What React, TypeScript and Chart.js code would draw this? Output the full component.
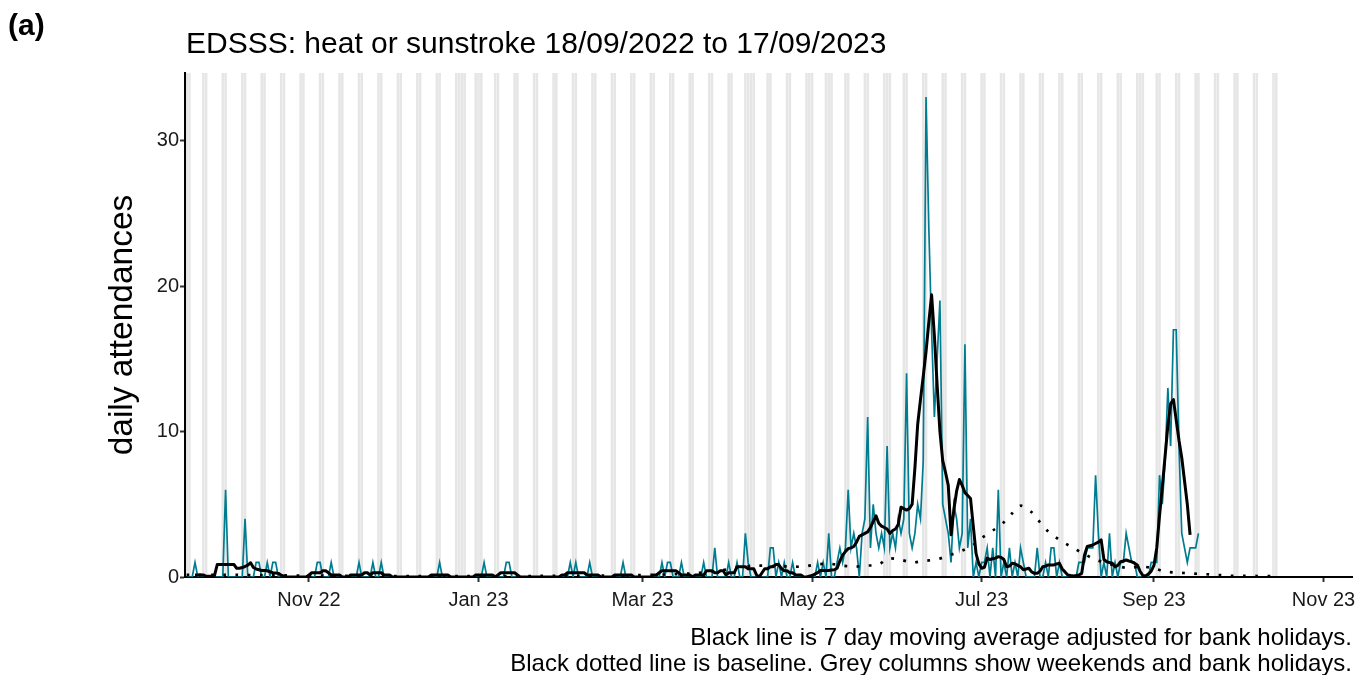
import React, { useEffect, useRef } from "react";
import { Chart, registerables } from "chart.js";

Chart.register(...registerables);

const FONT = "'Liberation Sans', Arial, Helvetica, sans-serif";

const PANEL_LABEL = "(a)";
const TITLE = "EDSSS: heat or sunstroke 18/09/2022 to 17/09/2023";
const CAPTION = [
  "Black line is 7 day moving average adjusted for bank holidays.",
  "Black dotted line is baseline. Grey columns show weekends and bank holidays.",
];
const Y_TITLE = "daily attendances";

// first day of the daily series (a Sunday)
const FIRST_DATE = "2022-09-18";

// daily attendances, one value per day from 18/09/2022 (7 per row, rows start on Sundays)
const dailyAttendances = [
  0, 0, 0, 1, 0, 0, 0,
  0, 0, 0, 0, 0, 0, 0,
  6, 0, 0, 0, 0, 0, 0,
  4, 0, 0, 0, 1, 1, 0,
  0, 1, 0, 1, 1, 0, 0,
  0, 0, 0, 0, 0, 0, 0,
  0, 0, 0, 0, 0, 1, 1,
  0, 0, 0, 1, 0, 0, 0,
  0, 0, 0, 0, 0, 0, 1,
  0, 0, 0, 0, 1, 0, 0,
  1, 0, 0, 0, 0, 0, 0,
  0, 0, 0, 0, 0, 0, 0,
  0, 0, 0, 0, 0, 0, 0,
  1, 0, 0, 0, 0, 0, 0,
  0, 0, 0, 0, 0, 0, 0,
  0, 0, 1, 0, 0, 0, 0,
  0, 0, 0, 1, 1, 0, 0,
  0, 0, 0, 0, 0, 0, 0,
  0, 0, 0, 0, 0, 0, 0,
  0, 0, 0, 0, 0, 1, 0,
  1, 0, 0, 0, 0, 1, 0,
  0, 0, 0, 0, 0, 0, 0,
  0, 0, 0, 1, 0, 0, 0,
  0, 0, 0, 0, 0, 0, 0,
  0, 0, 0, 1, 0, 1, 1,
  0, 0, 0, 1, 0, 0, 0,
  0, 0, 0, 0, 1, 0, 0,
  0, 2, 0, 0, 0, 0, 1,
  0, 0, 1, 0, 0, 3, 1,
  0, 0, 0, 0, 0, 0, 0,
  2, 2, 0, 1, 0, 1, 0,
  0, 1, 0, 0, 0, 0, 0,
  0, 0, 0, 1, 0, 1, 0,
  3, 0, 0, 1, 2, 1, 2,
  6, 2, 3, 2, 0, 3, 4,
  11, 2, 5, 3, 2, 3, 2,
  9, 2, 3, 2, 4, 3, 4,
  14, 3, 2, 3, 5, 4, 8,
  33, 24, 17, 11, 15, 19, 5,
  4, 3, 1, 5, 4, 2, 3,
  16, 2, 4, 0, 1, 0, 1,
  1, 2, 0, 2, 0, 6, 0,
  1, 0, 2, 0, 1, 0, 2,
  1, 0, 0, 0, 0, 2, 0,
  0, 1, 0, 2, 2, 0, 1,
  0, 0, 0, 0, 0, 0, 1,
  1, 1, 2, 2, 2, 7, 3,
  0, 1, 0, 3, 0, 1, 0,
  1, 1, 3, 2, 1, 1, 0,
  0, 0, 0, 0, 1, 1, 1,
  7, 5, 8, 13, 9, 17, 17,
  9, 3, 2, 1, 2, 2, 2,
  3,
];

// 7 day moving average, first value is day index 3 (21/09/2022); 7 values per row
const MOVING_AVERAGE_FIRST_DAY = 3;
const movingAverage = [
  0.14, 0.14, 0.14, 0.14, 0.05, 0.05, 0.05,
  0.1, 0.86, 0.86, 0.86, 0.86, 0.86, 0.86,
  0.86, 0.6, 0.6, 0.65, 0.72, 0.82, 0.98,
  0.65, 0.55, 0.5, 0.45, 0.45, 0.43, 0.36,
  0.3, 0.28, 0.25, 0.12, 0.05, 0, 0,
  0, 0, 0, 0, 0, 0, 0.14,
  0.29, 0.29, 0.29, 0.29, 0.43, 0.43, 0.29,
  0.14, 0.14, 0.14, 0.14, 0, 0, 0,
  0.14, 0.14, 0.14, 0.14, 0.14, 0.29, 0.29,
  0.14, 0.29, 0.29, 0.29, 0.29, 0.14, 0.14,
  0.14, 0, 0, 0, 0, 0, 0,
  0, 0, 0, 0, 0, 0, 0,
  0, 0.14, 0.14, 0.14, 0.14, 0.14, 0.14,
  0.14, 0, 0, 0, 0, 0, 0,
  0, 0, 0, 0.14, 0.14, 0.14, 0.14,
  0.14, 0.14, 0.14, 0, 0.14, 0.29, 0.29,
  0.29, 0.29, 0.29, 0.29, 0.14, 0, 0,
  0, 0, 0, 0, 0, 0, 0,
  0, 0, 0, 0, 0, 0, 0.14,
  0.14, 0.29, 0.29, 0.29, 0.29, 0.29, 0.29,
  0.29, 0.14, 0.14, 0.14, 0.14, 0.14, 0,
  0, 0, 0, 0, 0.14, 0.14, 0.14,
  0.14, 0.14, 0.14, 0.14, 0, 0, 0,
  0, 0, 0, 0, 0.14, 0.14, 0.29,
  0.43, 0.43, 0.43, 0.43, 0.43, 0.43, 0.29,
  0.14, 0.14, 0.14, 0.14, 0, 0.14, 0.14,
  0.14, 0.14, 0.43, 0.43, 0.43, 0.29, 0.29,
  0.43, 0.43, 0.14, 0.29, 0.29, 0.29, 0.71,
  0.71, 0.71, 0.71, 0.57, 0.57, 0.57, 0.14,
  0, 0.29, 0.57, 0.57, 0.71, 0.71, 0.86,
  0.86, 0.57, 0.43, 0.43, 0.29, 0.29, 0.14,
  0.14, 0.14, 0, 0, 0.05, 0.1, 0.2,
  0.3, 0.45, 0.45, 0.45, 0.45, 0.48, 0.5,
  0.6, 1.1, 1.5, 1.75, 1.95, 2.0, 2.1,
  2.4, 2.8, 2.9, 3.0, 3.1, 3.4, 3.8,
  4.2, 3.7, 3.5, 3.4, 3.3, 3.0, 3.2,
  3.3, 3.6, 4.8, 4.7, 4.6, 4.7, 5.0,
  7.5, 10.5, 12.2, 13.8, 15.5, 17.5, 19.4,
  16.6, 13.2, 10.0, 8.0, 7.2, 6.3, 2.9,
  4.6, 5.9, 6.7, 6.3, 5.8, 5.6, 5.4,
  3.5, 1.6, 0.9, 0.6, 0.67, 1.3, 1.2,
  1.25, 1.3, 1.4, 1.35, 1.2, 0.7, 0.75,
  0.95, 0.9, 0.8, 0.7, 0.5, 0.55, 0.6,
  0.35, 0.25, 0.25, 0.4, 0.7, 0.75, 0.83,
  0.83, 0.83, 0.9, 0.94, 0.55, 0.35, 0.14,
  0.1, 0.07, 0.1, 0.14, 0.25, 1.5, 2.1,
  2.15, 2.2, 2.3, 2.4, 2.55, 1.2, 1.05,
  1.0, 0.95, 0.7, 0.8, 1.05, 1.1, 1.17,
  1.1, 1.05, 0.95, 0.83, 0.4, 0.1, 0.07,
  0.2, 0.4, 0.8, 2.0, 4.2, 6.2, 8.3,
  10.4, 11.9, 12.2, 10.8, 9.4, 8.2, 6.6,
  5.0, 2.9,
];

// baseline, read at these day indices
const baselineDays = [
  0, 14, 28, 42, 56, 70, 84, 98, 112, 126, 140, 154, 168, 182, 190, 197, 204, 211, 218, 222,
  226, 231, 235, 240, 244, 249, 252, 256, 261, 265, 270, 274, 279, 283, 286, 290, 294, 297,
  300, 304, 307, 310, 314, 318, 322, 326, 330, 334, 339, 343, 348, 352, 357, 361, 366, 371,
  375, 380, 385, 391,
];
const baselineValues = [
  0.15, 0.15, 0.12, 0.1, 0.08, 0.07, 0.06, 0.06, 0.06, 0.07, 0.08, 0.1, 0.15, 0.25, 0.4, 0.6,
  0.78, 0.75, 0.72, 0.71, 0.85, 0.92, 0.8, 0.71, 0.78, 0.85, 1.25, 1.22, 1.01, 1.1, 1.22,
  1.47, 1.81, 2.2, 2.68, 3.19, 3.76, 4.38, 4.9, 4.45, 3.76, 3.12, 2.55, 2.1, 1.68, 1.28,
  1.0, 0.8, 0.6, 0.72, 0.6, 0.37, 0.3, 0.25, 0.2, 0.14, 0.09, 0.08, 0.07, 0.05,
];

const bankHolidays = [
  "2022-09-19", "2022-12-26", "2022-12-27", "2023-01-02", "2023-04-07",
  "2023-04-10", "2023-05-01", "2023-05-08", "2023-05-29", "2023-08-28",
];
const SHADE_END_DATE = "2023-10-15";

const xTickDates = ["2022-11-01", "2023-01-01", "2023-03-01", "2023-05-01", "2023-07-01", "2023-09-01", "2023-11-01"];
const xTickLabels = ["Nov 22", "Jan 23", "Mar 23", "May 23", "Jul 23", "Sep 23", "Nov 23"];
const yTickValues = [0, 10, 20, 30];

const X_MIN = -0.6;
const X_MAX = 419.25;
const Y_MIN = 0;
const Y_MAX = 34.65;

const TEAL = "#007C91";
const SHADE = "#e6e6e6";

function utcOf(iso: string) {
  const [y, m, d] = iso.split("-").map(Number);
  return Date.UTC(y, m - 1, d);
}
function dayIndex(iso: string) {
  return Math.round((utcOf(iso) - utcOf(FIRST_DATE)) / 86400000);
}

function shadedDays(): number[] {
  const out: number[] = [];
  const holidays = new Set(bankHolidays.map(dayIndex));
  const last = dayIndex(SHADE_END_DATE);
  const t0 = utcOf(FIRST_DATE);
  for (let d = 0; d <= last; d++) {
    const wd = new Date(t0 + d * 86400000).getUTCDay();
    if (wd === 0 || wd === 6 || holidays.has(d)) out.push(d);
  }
  return out;
}

const shadePlugin = {
  id: "weekendShade",
  beforeDraw(chart: any) {
    const { ctx, chartArea, scales } = chart;
    const xs = scales.x;
    ctx.save();
    ctx.beginPath();
    ctx.rect(chartArea.left, chartArea.top, chartArea.right - chartArea.left, chartArea.bottom - chartArea.top);
    ctx.clip();
    ctx.fillStyle = SHADE;
    for (const d of shadedDays()) {
      const x0 = xs.getPixelForValue(d - 0.46);
      const x1 = xs.getPixelForValue(d + 0.46);
      ctx.fillRect(x0, chartArea.top, x1 - x0, chartArea.bottom - chartArea.top);
    }
    ctx.restore();
  },
};

const textPlugin = {
  id: "annotText",
  afterDraw(chart: any) {
    const { ctx, chartArea } = chart;
    ctx.save();
    ctx.fillStyle = "#000";
    ctx.textBaseline = "alphabetic";
    ctx.textAlign = "left";
    ctx.font = `bold 30px ${FONT}`;
    ctx.fillText(PANEL_LABEL, 8, 35);
    ctx.font = `30px ${FONT}`;
    ctx.fillText(TITLE, chartArea.left + 1, 53);
    ctx.font = `24px ${FONT}`;
    ctx.textAlign = "right";
    ctx.fillText(CAPTION[0], chartArea.right, 645);
    ctx.fillText(CAPTION[1], chartArea.right, 671);
    ctx.restore();
  },
};

export default function App() {
  const ref = useRef<HTMLCanvasElement | null>(null);

  useEffect(() => {
    document.body.style.margin = "0";
    const canvas = ref.current;
    if (!canvas) return;

    const dailyPoints = dailyAttendances.map((v, i) => ({ x: i, y: v }));
    const maPoints = movingAverage.map((v, i) => ({ x: i + MOVING_AVERAGE_FIRST_DAY, y: v }));
    const basePoints = baselineDays.map((d, i) => ({ x: d, y: baselineValues[i] }));
    const xTickDays = xTickDates.map(dayIndex);

    const chart = new Chart(canvas, {
      type: "line",
      data: {
        datasets: [
          {
            label: "7 day moving average",
            data: maPoints,
            borderColor: "#000",
            borderWidth: 3,
            pointRadius: 0,
            tension: 0,
            order: 0,
            borderJoinStyle: "round",
          },
          {
            label: "baseline",
            data: basePoints,
            borderColor: "#000",
            borderWidth: 2.7,
            borderDash: [2.7, 9.5],
            pointRadius: 0,
            tension: 0.3,
            order: 1,
          },
          {
            label: "daily attendances",
            data: dailyPoints,
            borderColor: TEAL,
            borderWidth: 1.7,
            pointRadius: 0,
            tension: 0,
            order: 2,
          },
        ],
      },
      options: {
        responsive: false,
        animation: false,
        devicePixelRatio: 1,
        layout: { padding: { top: 73, right: 11, bottom: 0, left: 0 } },
        plugins: {
          legend: { display: false },
          title: { display: false },
          tooltip: { enabled: false },
        },
        font: { family: FONT },
        scales: {
          x: {
            type: "linear",
            min: X_MIN,
            max: X_MAX,
            afterFit: (s: any) => {
              s.height = 98;
            },
            afterBuildTicks: (s: any) => {
              s.ticks = xTickDays.map((v) => ({ value: v }));
            },
            grid: {
              drawOnChartArea: false,
              drawTicks: true,
              tickLength: 5,
              tickColor: "#333",
              tickWidth: 2,
            },
            border: { display: true, color: "#000", width: 2 },
            ticks: {
              autoSkip: false,
              maxRotation: 0,
              padding: 6,
              color: "#1a1a1a",
              font: { family: FONT, size: 20 },
              callback: (_v: any, i: number) => xTickLabels[i],
            },
          },
          y: {
            type: "linear",
            min: Y_MIN,
            max: Y_MAX,
            afterFit: (s: any) => {
              s.width = 185;
            },
            afterBuildTicks: (s: any) => {
              s.ticks = yTickValues.map((v) => ({ value: v }));
            },
            grid: {
              drawOnChartArea: false,
              drawTicks: true,
              tickLength: 5,
              tickColor: "#333",
              tickWidth: 2,
            },
            border: { display: true, color: "#000", width: 2 },
            ticks: {
              padding: 1,
              color: "#1a1a1a",
              font: { family: FONT, size: 20 },
              callback: (v: any) => String(v),
            },
            title: {
              display: true,
              text: Y_TITLE,
              color: "#000",
              font: { family: FONT, size: 33.5 },
              padding: { top: 103, bottom: 0 },
            },
          },
        },
      },
      plugins: [shadePlugin, textPlugin],
    } as any);

    return () => chart.destroy();
  }, []);

  return (
    <div style={{ position: "relative", width: 1363, height: 675 }}>
      <canvas ref={ref} width={1363} height={675} style={{ display: "block", width: 1363, height: 675 }} />
    </div>
  );
}
